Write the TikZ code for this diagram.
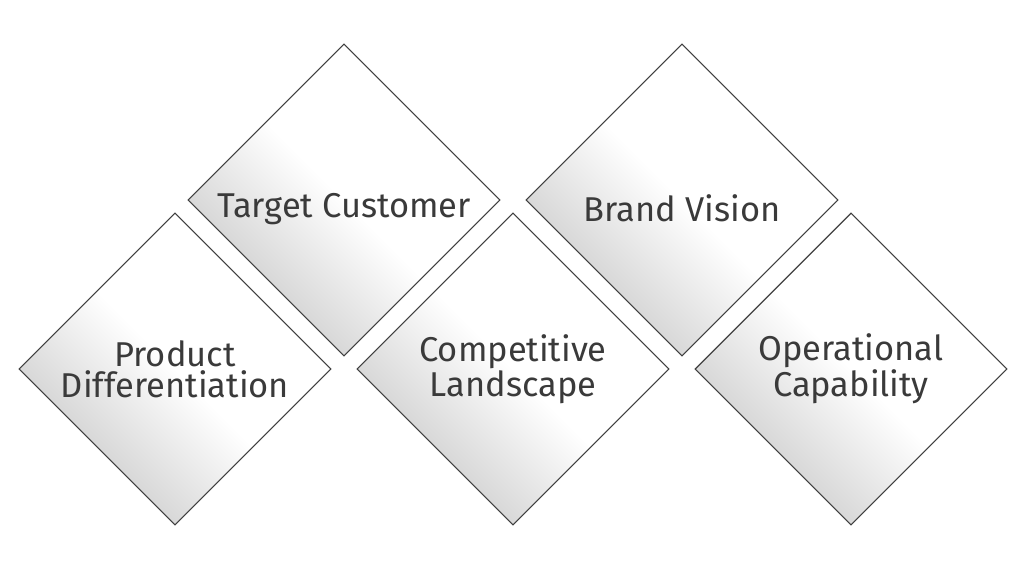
\documentclass[tikz,border=0pt]{standalone}
\usepackage{fontspec}
\setmainfont{Fira Sans}
\usepackage{tikz}
\usetikzlibrary{shapes.geometric,positioning}
\definecolor{edgegray}{RGB}{64,64,64}
\definecolor{textgray}{RGB}{58,58,58}
\definecolor{shadegray}{RGB}{200,200,200}

\begin{document}
\begin{tikzpicture}[x=0.025cm,y=0.025cm,
  facet/.style={diamond,draw=edgegray,line width=0.8pt,inner sep=0pt,
    minimum width=7.8cm,minimum height=7.8cm,
    top color=white,bottom color=shadegray,middle color=white,shading angle=-45,
    text=textgray,align=center,font=\fontsize{24.5}{22}\selectfont},
  oneline/.style={text depth=0pt,text height=#1}]
  \useasboundingbox (0,0) rectangle (1024,587);
  % upper row
  \node[facet,oneline=0.85cm] (target) at (344,387) {Target Customer};
  \node[facet,oneline=1.05cm] (brand) at (682,387) {Brand Vision};
  % lower row
  \node[facet] (product) at (175,218) {Product\\Differentiation};
  \node[facet] (compet) at (513,218) {Competitive\\Landscape};
  \node[facet] (operat) at (851,218) {Operational\\Capability};
\end{tikzpicture}
\end{document}
